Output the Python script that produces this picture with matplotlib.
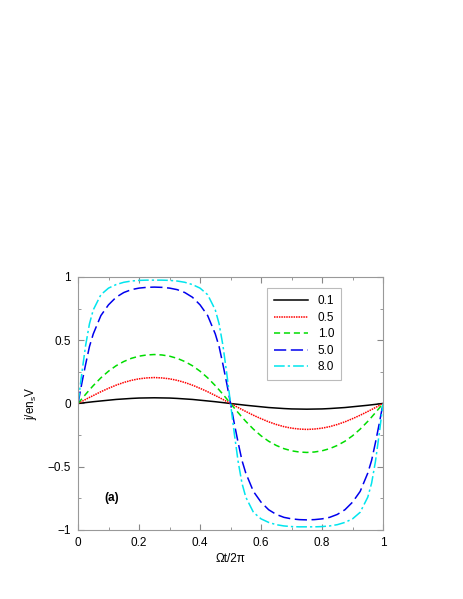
import matplotlib
matplotlib.use("Agg")
import matplotlib.pyplot as plt
from matplotlib.ticker import MultipleLocator

plt.rcParams['font.family'] = ['Liberation Sans', 'DejaVu Sans']
plt.rcParams['mathtext.fontset'] = 'custom'
plt.rcParams['mathtext.rm'] = 'Liberation Sans'
plt.rcParams['mathtext.it'] = 'Liberation Sans:italic'

# time axis (fraction of period)
t = [0, 0.0125, 0.025, 0.0375, 0.05, 0.075, 0.1, 0.125, 0.15, 0.175, 0.2, 0.225, 0.25,
     0.275, 0.3, 0.325, 0.35, 0.375, 0.4, 0.425, 0.45, 0.4625, 0.475, 0.4875, 0.5,
     0.5125, 0.525, 0.5375, 0.55, 0.575, 0.6, 0.625, 0.65, 0.675, 0.7, 0.725, 0.75,
     0.775, 0.8, 0.825, 0.85, 0.875, 0.9, 0.925, 0.95, 0.9625, 0.975, 0.9875, 1.0]

labels = ['0.1', '0.5', '1.0', '5.0', '8.0']

j_01 = [0, 0.0035, 0.007, 0.0105, 0.014, 0.020, 0.026, 0.032, 0.036, 0.040, 0.043, 0.044, 0.045,
        0.044, 0.043, 0.040, 0.036, 0.032, 0.026, 0.020, 0.014, 0.0105, 0.007, 0.0035, 0,
        -0.0035, -0.007, -0.0105, -0.014, -0.020, -0.026, -0.032, -0.036, -0.040, -0.043, -0.044, -0.045,
        -0.044, -0.043, -0.040, -0.036, -0.032, -0.026, -0.020, -0.014, -0.0105, -0.007, -0.0035, 0]

j_05 = [0, 0.016, 0.032, 0.048, 0.063, 0.093, 0.120, 0.145, 0.166, 0.183, 0.195, 0.202, 0.205,
        0.202, 0.195, 0.183, 0.166, 0.145, 0.120, 0.093, 0.063, 0.048, 0.032, 0.016, 0,
        -0.016, -0.032, -0.048, -0.063, -0.093, -0.120, -0.145, -0.166, -0.183, -0.195, -0.202, -0.205,
        -0.202, -0.195, -0.183, -0.166, -0.145, -0.120, -0.093, -0.063, -0.048, -0.032, -0.016, 0]

j_10 = [0, 0.0366, 0.0726, 0.1076, 0.1412, 0.2028, 0.2554, 0.2985, 0.3317, 0.357, 0.374, 0.3835, 0.387,
        0.3835, 0.374, 0.357, 0.3317, 0.2985, 0.2554, 0.2028, 0.1412, 0.1076, 0.0726, 0.0366, 0,
        -0.0366, -0.0726, -0.1076, -0.1412, -0.2028, -0.2554, -0.2985, -0.3317, -0.357, -0.374, -0.3835, -0.387,
        -0.3835, -0.374, -0.357, -0.3317, -0.2985, -0.2554, -0.2028, -0.1412, -0.1076, -0.0726, -0.0366, 0]

j_50 = [0, 0.16, 0.31, 0.45, 0.55, 0.695, 0.78, 0.84, 0.877, 0.90, 0.912, 0.918, 0.92,
        0.918, 0.912, 0.90, 0.877, 0.84, 0.78, 0.695, 0.55, 0.45, 0.31, 0.16, 0,
        -0.16, -0.31, -0.45, -0.55, -0.695, -0.78, -0.84, -0.877, -0.90, -0.912, -0.918, -0.92,
        -0.918, -0.912, -0.90, -0.877, -0.84, -0.78, -0.695, -0.55, -0.45, -0.31, -0.16, 0]

j_80 = [0, 0.24, 0.46, 0.63, 0.74, 0.86, 0.912, 0.94, 0.958, 0.968, 0.973, 0.975, 0.975,
        0.975, 0.973, 0.968, 0.958, 0.94, 0.912, 0.86, 0.74, 0.63, 0.46, 0.24, 0,
        -0.24, -0.46, -0.63, -0.74, -0.86, -0.912, -0.94, -0.958, -0.968, -0.973, -0.975, -0.975,
        -0.975, -0.973, -0.968, -0.958, -0.94, -0.912, -0.86, -0.74, -0.63, -0.46, -0.24, 0]

series = [j_01, j_05, j_10, j_50, j_80]
colors = ['black', 'red', '#00dd00', '#0000ee', '#00e5ee']
styles = ['-', (0, (1, 0.6)), (0, (4, 2.5)), (0, (8, 3)), (0, (7, 2, 1.5, 2))]

fig = plt.figure(figsize=(4.63, 5.99), dpi=100)
ax = fig.add_axes([0.1685, 0.1152, 0.6588, 0.4224])

for y, c, ls, lab in zip(series, colors, styles, labels):
    ax.plot(t, y, color=c, linestyle=ls, linewidth=1.1, label=lab)

ax.set_xlim(0, 1)
ax.set_ylim(-1, 1)
ax.xaxis.set_minor_locator(MultipleLocator(0.1))
ax.yaxis.set_minor_locator(MultipleLocator(0.25))
ax.set_xticks([0, 0.2, 0.4, 0.6, 0.8, 1.0])
ax.set_xticklabels(['0', '0.2', '0.4', '0.6', '0.8', '1'])
ax.set_yticks([-1, -0.5, 0, 0.5, 1])
ax.set_yticklabels(['\u22121', '\u22120.5', '0', '0.5', '1'])
ax.tick_params(which='both', direction='in', top=True, right=True, color='#888888')
ax.tick_params(which='major', length=4, labelsize=8.5, pad=5)
ax.tick_params(which='minor', length=2)
for s in ax.spines.values():
    s.set_color('#999999')
    s.set_linewidth(0.8)

ax.set_xlabel('\u03a9t/2\u03c0', fontsize=8.5, labelpad=3)
ax.set_ylabel(r'j/en$_{\mathrm{s}}$V', fontsize=8.5, labelpad=6)

ax.text(0.085, 0.115, '(a)', transform=ax.transAxes, fontsize=8.5, fontweight='bold')

leg = ax.legend(loc='upper left', bbox_to_anchor=(0.62, 0.955), fontsize=8.5, frameon=True,
                fancybox=False, handlelength=2.9, handletextpad=0.8, labelspacing=0.38,
                borderpad=0.6, borderaxespad=0)
leg.get_frame().set_edgecolor('#aaaaaa')
leg.get_frame().set_linewidth(0.8)

fig.savefig('out.png', dpi=100)
